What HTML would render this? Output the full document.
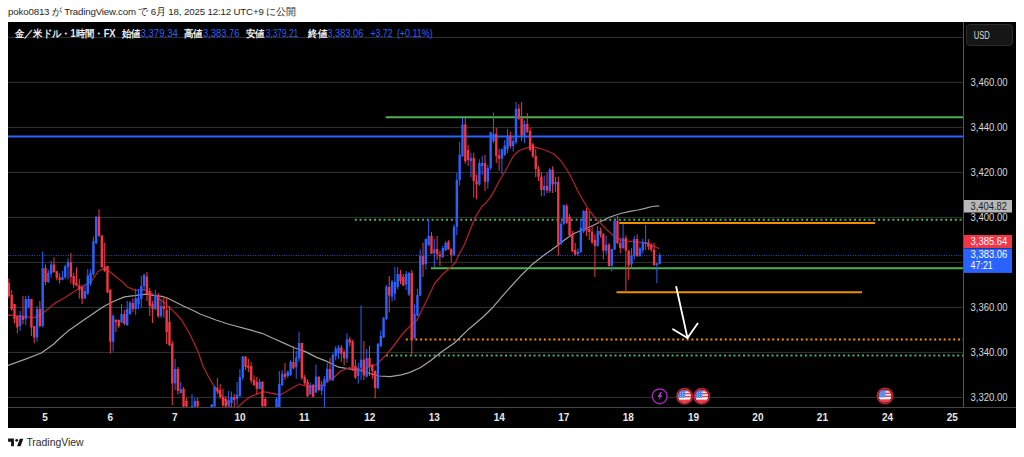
<!DOCTYPE html>
<html><head><meta charset="utf-8">
<style>
html,body{margin:0;padding:0;background:#fff;}
body{width:1024px;height:457px;overflow:hidden;position:relative;font-family:"Liberation Sans",sans-serif;}
#hdr{position:absolute;left:8px;top:5.6px;font-size:9.7px;color:#262626;white-space:nowrap;letter-spacing:-0.15px;}
#chart{position:absolute;left:8px;top:22px;width:1008px;height:406px;background:#000;}
svg{position:absolute;left:0;top:0;}
.pl{font-size:10px;fill:#d8d8d8;}
.tl{font-size:10px;font-weight:bold;fill:#e8e8e8;}
.lg{font-size:10px;fill:#e0e0e0;}
.lv{font-size:10px;fill:#2962ff;}
</style></head>
<body>
<div id="hdr">poko0813 が TradingView.com で 6月 18, 2025 12:12 UTC+9 に公開</div>
<div id="chart"></div>
<svg width="1024" height="457" viewBox="0 0 1024 457">
<defs><clipPath id="pane"><rect x="8" y="22" width="955" height="385"/></clipPath></defs>
<line x1="8" x2="963" y1="37.4" y2="37.4" stroke="#343434" stroke-width="1"/>
<line x1="8" x2="963" y1="82.4" y2="82.4" stroke="#343434" stroke-width="1"/>
<line x1="8" x2="963" y1="127.4" y2="127.4" stroke="#343434" stroke-width="1"/>
<line x1="8" x2="963" y1="172.4" y2="172.4" stroke="#343434" stroke-width="1"/>
<line x1="8" x2="963" y1="217.4" y2="217.4" stroke="#343434" stroke-width="1"/>
<line x1="8" x2="963" y1="262.4" y2="262.4" stroke="#343434" stroke-width="1"/>
<line x1="8" x2="963" y1="307.4" y2="307.4" stroke="#343434" stroke-width="1"/>
<line x1="8" x2="963" y1="352.4" y2="352.4" stroke="#343434" stroke-width="1"/>
<line x1="8" x2="963" y1="397.4" y2="397.4" stroke="#343434" stroke-width="1"/>
<line x1="385.7" x2="963" y1="117.3" y2="117.3" stroke="#4caf50" stroke-width="2"/>
<line x1="8" x2="963" y1="136.5" y2="136.5" stroke="#2962ff" stroke-width="2"/>
<line x1="354.8" x2="963" y1="219.7" y2="219.7" stroke="#4caf50" stroke-width="2" stroke-dasharray="2 2.8"/>
<line x1="619.3" x2="875" y1="223" y2="223" stroke="#f09000" stroke-width="2"/>
<line x1="8" x2="963" y1="255.5" y2="255.5" stroke="#2a4cb8" stroke-width="1" stroke-dasharray="1 1.4"/>
<line x1="430.9" x2="963" y1="268.3" y2="268.3" stroke="#4caf50" stroke-width="2"/>
<line x1="616.5" x2="862" y1="292.3" y2="292.3" stroke="#f09000" stroke-width="2"/>
<line x1="405.8" x2="963" y1="339.5" y2="339.5" stroke="#f09000" stroke-width="2" stroke-dasharray="2 2.76"/>
<line x1="386" x2="963" y1="355.6" y2="355.6" stroke="#4caf50" stroke-width="2" stroke-dasharray="2 2.76"/>
<g clip-path="url(#pane)"><polyline points="8.0,365.3 25.5,359.1 41.3,353.0 53.5,344.3 60.0,338.0 68.0,331.1 74.5,326.5 83.0,320.5 91.2,315.0 98.0,310.2 104.5,306.0 114.4,301.0 124.4,296.8 134.4,295.6 140.0,294.8 146.6,294.2 153.1,295.3 161.9,296.4 167.4,298.0 172.8,300.8 183.8,306.3 194.7,311.2 200.0,314.0 208.0,317.0 216.0,320.0 228.0,324.0 250.0,329.9 262.0,333.3 273.0,338.2 283.9,343.1 294.8,348.0 305.8,351.9 316.7,357.4 327.6,361.7 338.6,367.2 349.5,368.8 360.5,370.5 370.0,373.5 379.2,376.0 390.2,376.6 401.1,374.9 409.2,372.6 420.2,367.8 431.1,360.2 442.0,351.4 454.4,343.0 468.9,328.9 483.3,316.8 493.0,307.2 507.4,290.4 521.8,274.7 531.5,265.1 543.5,255.5 555.5,247.0 561.0,242.5 568.0,237.5 575.0,233.0 584.0,229.5 592.5,225.8 601.0,221.5 610.0,217.0 620.5,213.5 630.0,211.3 638.0,210.0 645.0,208.4 652.0,206.5 659.3,205.8" fill="none" stroke="#a2a2a2" stroke-width="1.25" stroke-linejoin="round"/><polyline points="8.0,315.0 24.6,316.7 34.6,317.6 43.8,312.6 54.6,303.4 66.2,296.8 77.8,289.3 87.8,283.5 91.6,281.0 95.0,276.0 98.1,271.5 101.5,269.5 104.7,269.0 109.0,271.0 112.0,273.5 115.6,276.6 122.3,281.8 127.6,287.1 135.5,290.4 143.4,289.7 148.6,291.7 155.2,295.6 159.0,298.3 163.0,301.5 169.6,308.1 172.8,310.6 177.2,315.0 181.6,320.0 186.0,327.5 190.0,334.5 194.0,342.8 198.2,352.0 202.8,365.5 207.8,375.5 213.3,384.8 218.0,391.5 222.3,396.4 229.5,406.0 234.0,408.5 239.0,406.0 245.0,400.5 251.0,396.4 263.3,391.6 275.3,394.0 280.0,395.0 285.8,391.7 299.3,384.0 309.4,387.4 321.2,385.0 333.0,378.2 340.8,371.0 349.5,367.7 356.0,368.3 360.0,370.0 371.0,366.2 376.4,364.5 379.7,361.3 386.3,354.7 392.8,347.0 401.6,335.0 405.6,330.5 410.0,326.1 416.6,320.6 423.2,307.5 429.2,295.0 434.7,283.3 443.5,273.4 451.1,266.9 455.5,262.5 458.8,254.8 464.2,245.0 469.7,231.1 475.2,217.4 481.8,206.5 486.1,202.7 492.0,195.0 496.9,185.5 499.8,180.0 505.0,171.5 509.0,164.0 513.6,155.5 519.3,150.5 527.4,147.6 534.3,147.2 540.0,148.5 546.0,150.5 554.0,154.0 561.0,161.0 568.0,171.5 573.0,181.0 578.5,192.5 584.0,202.0 589.0,210.0 594.0,216.5 599.5,222.3 605.0,228.0 610.0,232.8 615.0,236.8 620.5,239.8 627.0,241.2 634.6,241.6 645.0,242.8 652.0,245.5 659.4,248.6" fill="none" stroke="#ad1f2c" stroke-width="1.3" stroke-linejoin="round"/><rect x="8.37" y="278.6" width="1" height="19.4" fill="#f23645"/>
<rect x="7.67" y="282.8" width="2.4" height="13.2" fill="#f23645"/>
<rect x="11.19" y="290.0" width="1" height="21.0" fill="#f23645"/>
<rect x="10.49" y="295.0" width="2.4" height="14.3" fill="#f23645"/>
<rect x="14.01" y="304.0" width="1" height="19.4" fill="#f23645"/>
<rect x="13.31" y="304.0" width="2.4" height="15.0" fill="#f23645"/>
<rect x="16.83" y="316.0" width="1" height="17.4" fill="#f23645"/>
<rect x="16.13" y="316.0" width="2.4" height="11.5" fill="#f23645"/>
<rect x="19.64" y="311.0" width="1" height="20.0" fill="#2962ff"/>
<rect x="18.94" y="315.0" width="2.4" height="11.0" fill="#2962ff"/>
<rect x="22.46" y="296.0" width="1" height="28.0" fill="#f23645"/>
<rect x="21.76" y="316.0" width="2.4" height="4.0" fill="#f23645"/>
<rect x="25.28" y="296.0" width="1" height="29.0" fill="#2962ff"/>
<rect x="24.58" y="299.0" width="2.4" height="20.0" fill="#2962ff"/>
<rect x="28.10" y="295.6" width="1" height="12.9" fill="#2962ff"/>
<rect x="27.40" y="299.0" width="2.4" height="8.6" fill="#2962ff"/>
<rect x="30.91" y="299.0" width="1" height="37.0" fill="#f23645"/>
<rect x="30.21" y="299.0" width="2.4" height="28.5" fill="#f23645"/>
<rect x="33.73" y="326.0" width="1" height="17.4" fill="#f23645"/>
<rect x="33.03" y="326.0" width="2.4" height="11.5" fill="#f23645"/>
<rect x="36.55" y="306.0" width="1" height="35.7" fill="#2962ff"/>
<rect x="35.85" y="309.0" width="2.4" height="28.5" fill="#2962ff"/>
<rect x="39.37" y="301.0" width="1" height="26.5" fill="#f23645"/>
<rect x="38.67" y="309.0" width="2.4" height="17.0" fill="#f23645"/>
<rect x="42.18" y="251.6" width="1" height="75.9" fill="#2962ff"/>
<rect x="41.48" y="268.2" width="2.4" height="57.8" fill="#2962ff"/>
<rect x="45.00" y="264.5" width="1" height="20.4" fill="#f23645"/>
<rect x="44.30" y="268.2" width="2.4" height="13.8" fill="#f23645"/>
<rect x="47.82" y="270.0" width="1" height="12.8" fill="#2962ff"/>
<rect x="47.12" y="272.8" width="2.4" height="9.2" fill="#2962ff"/>
<rect x="50.63" y="260.7" width="1" height="17.1" fill="#2962ff"/>
<rect x="49.93" y="264.5" width="2.4" height="9.1" fill="#2962ff"/>
<rect x="53.45" y="257.4" width="1" height="15.4" fill="#f23645"/>
<rect x="52.75" y="264.5" width="2.4" height="7.5" fill="#f23645"/>
<rect x="56.27" y="271.0" width="1" height="9.3" fill="#f23645"/>
<rect x="55.57" y="271.2" width="2.4" height="6.6" fill="#f23645"/>
<rect x="59.09" y="273.2" width="1" height="10.4" fill="#f23645"/>
<rect x="58.39" y="277.4" width="2.4" height="2.5" fill="#f23645"/>
<rect x="61.90" y="271.0" width="1" height="9.3" fill="#2962ff"/>
<rect x="61.20" y="277.0" width="2.4" height="3.0" fill="#2962ff"/>
<rect x="64.72" y="264.5" width="1" height="14.5" fill="#2962ff"/>
<rect x="64.02" y="266.2" width="2.4" height="11.2" fill="#2962ff"/>
<rect x="67.54" y="258.0" width="1" height="21.5" fill="#2962ff"/>
<rect x="66.84" y="262.4" width="2.4" height="4.6" fill="#2962ff"/>
<rect x="70.36" y="253.0" width="1" height="30.6" fill="#f23645"/>
<rect x="69.66" y="262.4" width="2.4" height="14.6" fill="#f23645"/>
<rect x="73.17" y="272.8" width="1" height="15.0" fill="#f23645"/>
<rect x="72.47" y="276.0" width="2.4" height="8.5" fill="#f23645"/>
<rect x="75.99" y="267.4" width="1" height="18.7" fill="#f23645"/>
<rect x="75.29" y="282.8" width="2.4" height="2.9" fill="#f23645"/>
<rect x="78.81" y="279.0" width="1" height="19.6" fill="#f23645"/>
<rect x="78.11" y="285.3" width="2.4" height="4.2" fill="#f23645"/>
<rect x="81.63" y="285.0" width="1" height="19.0" fill="#f23645"/>
<rect x="80.93" y="287.0" width="2.4" height="11.6" fill="#f23645"/>
<rect x="84.44" y="284.5" width="1" height="14.5" fill="#2962ff"/>
<rect x="83.74" y="291.0" width="2.4" height="7.6" fill="#2962ff"/>
<rect x="87.26" y="269.0" width="1" height="26.0" fill="#2962ff"/>
<rect x="86.56" y="275.3" width="2.4" height="18.3" fill="#2962ff"/>
<rect x="90.08" y="269.5" width="1" height="16.5" fill="#2962ff"/>
<rect x="89.38" y="272.8" width="2.4" height="10.8" fill="#2962ff"/>
<rect x="92.90" y="236.6" width="1" height="39.4" fill="#2962ff"/>
<rect x="92.20" y="241.3" width="2.4" height="32.7" fill="#2962ff"/>
<rect x="95.71" y="216.6" width="1" height="27.4" fill="#2962ff"/>
<rect x="95.01" y="216.6" width="2.4" height="26.6" fill="#2962ff"/>
<rect x="98.53" y="209.1" width="1" height="27.9" fill="#f23645"/>
<rect x="97.83" y="216.6" width="2.4" height="19.2" fill="#f23645"/>
<rect x="101.35" y="235.0" width="1" height="33.0" fill="#f23645"/>
<rect x="100.65" y="235.4" width="2.4" height="31.6" fill="#f23645"/>
<rect x="104.17" y="242.8" width="1" height="29.2" fill="#f23645"/>
<rect x="103.47" y="266.5" width="2.4" height="4.2" fill="#f23645"/>
<rect x="106.98" y="265.8" width="1" height="27.2" fill="#f23645"/>
<rect x="106.28" y="266.0" width="2.4" height="26.6" fill="#f23645"/>
<rect x="109.80" y="289.0" width="1" height="64.5" fill="#f23645"/>
<rect x="109.10" y="290.0" width="2.4" height="51.7" fill="#f23645"/>
<rect x="112.62" y="314.0" width="1" height="37.5" fill="#2962ff"/>
<rect x="111.92" y="316.0" width="2.4" height="25.7" fill="#2962ff"/>
<rect x="115.43" y="319.0" width="1" height="13.0" fill="#f23645"/>
<rect x="114.73" y="320.0" width="2.4" height="2.0" fill="#f23645"/>
<rect x="118.25" y="319.5" width="1" height="8.5" fill="#f23645"/>
<rect x="117.55" y="320.0" width="2.4" height="6.0" fill="#f23645"/>
<rect x="121.07" y="304.0" width="1" height="19.0" fill="#2962ff"/>
<rect x="120.37" y="314.0" width="2.4" height="8.6" fill="#2962ff"/>
<rect x="123.89" y="310.0" width="1" height="15.0" fill="#f23645"/>
<rect x="123.19" y="314.0" width="2.4" height="10.0" fill="#f23645"/>
<rect x="126.70" y="301.0" width="1" height="25.0" fill="#2962ff"/>
<rect x="126.00" y="309.0" width="2.4" height="16.0" fill="#2962ff"/>
<rect x="129.52" y="301.0" width="1" height="14.0" fill="#2962ff"/>
<rect x="128.82" y="302.6" width="2.4" height="11.4" fill="#2962ff"/>
<rect x="132.34" y="298.4" width="1" height="13.6" fill="#f23645"/>
<rect x="131.64" y="303.0" width="2.4" height="6.0" fill="#f23645"/>
<rect x="135.16" y="288.6" width="1" height="26.4" fill="#2962ff"/>
<rect x="134.46" y="298.4" width="2.4" height="10.6" fill="#2962ff"/>
<rect x="137.97" y="289.0" width="1" height="20.0" fill="#2962ff"/>
<rect x="137.27" y="297.6" width="2.4" height="6.4" fill="#2962ff"/>
<rect x="140.79" y="276.0" width="1" height="31.6" fill="#2962ff"/>
<rect x="140.09" y="286.0" width="2.4" height="13.0" fill="#2962ff"/>
<rect x="143.61" y="274.0" width="1" height="16.0" fill="#2962ff"/>
<rect x="142.91" y="274.6" width="2.4" height="11.4" fill="#2962ff"/>
<rect x="146.43" y="272.0" width="1" height="29.0" fill="#f23645"/>
<rect x="145.73" y="276.6" width="2.4" height="17.7" fill="#f23645"/>
<rect x="149.24" y="288.0" width="1" height="28.0" fill="#f23645"/>
<rect x="148.54" y="291.0" width="2.4" height="15.0" fill="#f23645"/>
<rect x="152.06" y="301.0" width="1" height="22.0" fill="#f23645"/>
<rect x="151.36" y="304.0" width="2.4" height="5.0" fill="#f23645"/>
<rect x="154.88" y="290.0" width="1" height="20.0" fill="#2962ff"/>
<rect x="154.18" y="295.0" width="2.4" height="14.0" fill="#2962ff"/>
<rect x="157.70" y="293.0" width="1" height="25.0" fill="#f23645"/>
<rect x="157.00" y="295.0" width="2.4" height="21.0" fill="#f23645"/>
<rect x="160.51" y="300.0" width="1" height="18.0" fill="#2962ff"/>
<rect x="159.81" y="306.0" width="2.4" height="10.0" fill="#2962ff"/>
<rect x="163.33" y="297.6" width="1" height="20.0" fill="#f23645"/>
<rect x="162.63" y="306.0" width="2.4" height="3.0" fill="#f23645"/>
<rect x="166.15" y="297.5" width="1" height="46.5" fill="#f23645"/>
<rect x="165.45" y="310.0" width="2.4" height="22.0" fill="#f23645"/>
<rect x="168.97" y="306.0" width="1" height="40.0" fill="#f23645"/>
<rect x="168.27" y="321.7" width="2.4" height="23.3" fill="#f23645"/>
<rect x="171.78" y="341.0" width="1" height="64.0" fill="#f23645"/>
<rect x="171.08" y="343.6" width="2.4" height="39.8" fill="#f23645"/>
<rect x="174.60" y="359.0" width="1" height="31.0" fill="#2962ff"/>
<rect x="173.90" y="369.0" width="2.4" height="14.4" fill="#2962ff"/>
<rect x="177.42" y="367.0" width="1" height="27.7" fill="#f23645"/>
<rect x="176.72" y="369.0" width="2.4" height="22.0" fill="#f23645"/>
<rect x="180.23" y="381.8" width="1" height="11.8" fill="#2962ff"/>
<rect x="179.53" y="389.0" width="2.4" height="4.0" fill="#2962ff"/>
<rect x="183.05" y="387.0" width="1" height="20.0" fill="#f23645"/>
<rect x="182.35" y="388.8" width="2.4" height="17.7" fill="#f23645"/>
<rect x="185.87" y="398.0" width="1" height="9.0" fill="#f23645"/>
<rect x="185.17" y="401.0" width="2.4" height="5.5" fill="#f23645"/>
<rect x="191.50" y="394.0" width="1" height="13.0" fill="#2962ff"/>
<rect x="190.80" y="406.0" width="2.4" height="1.0" fill="#2962ff"/>
<rect x="194.32" y="398.0" width="1" height="9.0" fill="#2962ff"/>
<rect x="193.62" y="401.0" width="2.4" height="5.5" fill="#2962ff"/>
<rect x="197.14" y="398.0" width="1" height="9.0" fill="#f23645"/>
<rect x="196.44" y="401.0" width="2.4" height="5.5" fill="#f23645"/>
<rect x="211.23" y="404.0" width="1" height="3.0" fill="#2962ff"/>
<rect x="210.53" y="404.5" width="2.4" height="2.5" fill="#2962ff"/>
<rect x="214.04" y="385.8" width="1" height="21.2" fill="#2962ff"/>
<rect x="213.34" y="386.6" width="2.4" height="19.9" fill="#2962ff"/>
<rect x="216.86" y="378.0" width="1" height="16.0" fill="#f23645"/>
<rect x="216.16" y="387.7" width="2.4" height="3.8" fill="#f23645"/>
<rect x="219.68" y="384.0" width="1" height="15.0" fill="#f23645"/>
<rect x="218.98" y="390.0" width="2.4" height="7.0" fill="#f23645"/>
<rect x="222.50" y="389.0" width="1" height="18.0" fill="#f23645"/>
<rect x="221.80" y="397.0" width="2.4" height="8.4" fill="#f23645"/>
<rect x="225.31" y="396.0" width="1" height="11.0" fill="#f23645"/>
<rect x="224.61" y="399.0" width="2.4" height="7.5" fill="#f23645"/>
<rect x="228.13" y="391.0" width="1" height="16.0" fill="#2962ff"/>
<rect x="227.43" y="400.0" width="2.4" height="5.0" fill="#2962ff"/>
<rect x="230.95" y="391.5" width="1" height="15.5" fill="#2962ff"/>
<rect x="230.25" y="397.0" width="2.4" height="6.0" fill="#2962ff"/>
<rect x="233.77" y="394.0" width="1" height="13.0" fill="#f23645"/>
<rect x="233.07" y="397.0" width="2.4" height="3.0" fill="#f23645"/>
<rect x="236.58" y="382.0" width="1" height="23.0" fill="#2962ff"/>
<rect x="235.88" y="394.7" width="2.4" height="4.3" fill="#2962ff"/>
<rect x="239.40" y="369.0" width="1" height="28.0" fill="#2962ff"/>
<rect x="238.70" y="377.0" width="2.4" height="18.8" fill="#2962ff"/>
<rect x="242.22" y="356.0" width="1" height="24.0" fill="#2962ff"/>
<rect x="241.52" y="356.5" width="2.4" height="21.0" fill="#2962ff"/>
<rect x="245.03" y="356.0" width="1" height="14.0" fill="#f23645"/>
<rect x="244.33" y="356.5" width="2.4" height="10.5" fill="#f23645"/>
<rect x="247.85" y="358.8" width="1" height="13.2" fill="#f23645"/>
<rect x="247.15" y="365.5" width="2.4" height="2.5" fill="#f23645"/>
<rect x="250.67" y="362.0" width="1" height="21.4" fill="#f23645"/>
<rect x="249.97" y="366.0" width="2.4" height="14.7" fill="#f23645"/>
<rect x="253.49" y="375.4" width="1" height="10.6" fill="#f23645"/>
<rect x="252.79" y="380.0" width="2.4" height="5.0" fill="#f23645"/>
<rect x="256.30" y="377.0" width="1" height="17.2" fill="#f23645"/>
<rect x="255.60" y="381.8" width="2.4" height="7.0" fill="#f23645"/>
<rect x="259.12" y="378.6" width="1" height="10.9" fill="#2962ff"/>
<rect x="258.42" y="381.8" width="2.4" height="7.0" fill="#2962ff"/>
<rect x="261.94" y="381.0" width="1" height="26.0" fill="#f23645"/>
<rect x="261.24" y="381.8" width="2.4" height="24.2" fill="#f23645"/>
<rect x="264.76" y="396.8" width="1" height="10.2" fill="#f23645"/>
<rect x="264.06" y="399.0" width="2.4" height="7.0" fill="#f23645"/>
<rect x="276.03" y="397.0" width="1" height="10.0" fill="#2962ff"/>
<rect x="275.33" y="399.0" width="2.4" height="8.0" fill="#2962ff"/>
<rect x="278.84" y="371.0" width="1" height="36.0" fill="#2962ff"/>
<rect x="278.14" y="384.0" width="2.4" height="23.0" fill="#2962ff"/>
<rect x="281.66" y="370.0" width="1" height="16.0" fill="#2962ff"/>
<rect x="280.96" y="373.8" width="2.4" height="11.2" fill="#2962ff"/>
<rect x="284.48" y="363.0" width="1" height="17.0" fill="#f23645"/>
<rect x="283.78" y="373.8" width="2.4" height="3.2" fill="#f23645"/>
<rect x="287.30" y="370.5" width="1" height="7.5" fill="#2962ff"/>
<rect x="286.60" y="371.6" width="2.4" height="4.4" fill="#2962ff"/>
<rect x="290.11" y="360.0" width="1" height="16.0" fill="#2962ff"/>
<rect x="289.41" y="361.7" width="2.4" height="13.2" fill="#2962ff"/>
<rect x="292.93" y="345.9" width="1" height="23.5" fill="#f23645"/>
<rect x="292.23" y="362.0" width="2.4" height="6.3" fill="#f23645"/>
<rect x="295.75" y="351.0" width="1" height="27.7" fill="#2962ff"/>
<rect x="295.05" y="357.4" width="2.4" height="9.8" fill="#2962ff"/>
<rect x="298.57" y="331.6" width="1" height="30.1" fill="#2962ff"/>
<rect x="297.87" y="343.0" width="2.4" height="15.4" fill="#2962ff"/>
<rect x="301.38" y="343.0" width="1" height="37.0" fill="#f23645"/>
<rect x="300.68" y="343.0" width="2.4" height="35.0" fill="#f23645"/>
<rect x="304.20" y="375.0" width="1" height="10.0" fill="#f23645"/>
<rect x="303.50" y="377.0" width="2.4" height="6.0" fill="#f23645"/>
<rect x="307.02" y="379.0" width="1" height="18.0" fill="#f23645"/>
<rect x="306.32" y="381.5" width="2.4" height="14.5" fill="#f23645"/>
<rect x="309.83" y="383.0" width="1" height="12.0" fill="#2962ff"/>
<rect x="309.13" y="385.0" width="2.4" height="9.0" fill="#2962ff"/>
<rect x="312.65" y="384.0" width="1" height="13.5" fill="#f23645"/>
<rect x="311.95" y="385.0" width="2.4" height="11.7" fill="#f23645"/>
<rect x="315.47" y="364.5" width="1" height="28.5" fill="#2962ff"/>
<rect x="314.77" y="376.5" width="2.4" height="16.0" fill="#2962ff"/>
<rect x="318.29" y="376.0" width="1" height="15.0" fill="#f23645"/>
<rect x="317.59" y="377.0" width="2.4" height="13.0" fill="#f23645"/>
<rect x="321.10" y="381.0" width="1" height="14.0" fill="#2962ff"/>
<rect x="320.40" y="385.0" width="2.4" height="5.8" fill="#2962ff"/>
<rect x="323.92" y="376.0" width="1" height="31.0" fill="#2962ff"/>
<rect x="323.22" y="379.0" width="2.4" height="7.6" fill="#2962ff"/>
<rect x="326.74" y="362.8" width="1" height="20.2" fill="#2962ff"/>
<rect x="326.04" y="368.8" width="2.4" height="12.7" fill="#2962ff"/>
<rect x="329.56" y="358.0" width="1" height="22.0" fill="#f23645"/>
<rect x="328.86" y="369.0" width="2.4" height="10.0" fill="#f23645"/>
<rect x="332.37" y="353.0" width="1" height="28.0" fill="#2962ff"/>
<rect x="331.67" y="355.0" width="2.4" height="25.4" fill="#2962ff"/>
<rect x="335.19" y="346.0" width="1" height="14.5" fill="#2962ff"/>
<rect x="334.49" y="348.6" width="2.4" height="7.7" fill="#2962ff"/>
<rect x="338.01" y="345.0" width="1" height="14.0" fill="#2962ff"/>
<rect x="337.31" y="347.5" width="2.4" height="6.0" fill="#2962ff"/>
<rect x="340.83" y="345.0" width="1" height="16.7" fill="#f23645"/>
<rect x="340.13" y="347.5" width="2.4" height="6.0" fill="#f23645"/>
<rect x="343.64" y="350.0" width="1" height="15.6" fill="#f23645"/>
<rect x="342.94" y="352.0" width="2.4" height="6.4" fill="#f23645"/>
<rect x="346.46" y="333.3" width="1" height="29.5" fill="#2962ff"/>
<rect x="345.76" y="339.3" width="2.4" height="19.1" fill="#2962ff"/>
<rect x="349.28" y="337.0" width="1" height="9.4" fill="#f23645"/>
<rect x="348.58" y="339.3" width="2.4" height="3.3" fill="#f23645"/>
<rect x="352.10" y="340.0" width="1" height="31.0" fill="#f23645"/>
<rect x="351.40" y="341.5" width="2.4" height="25.7" fill="#f23645"/>
<rect x="354.91" y="359.5" width="1" height="19.5" fill="#f23645"/>
<rect x="354.21" y="366.0" width="2.4" height="11.6" fill="#f23645"/>
<rect x="357.73" y="362.8" width="1" height="20.9" fill="#2962ff"/>
<rect x="357.03" y="367.7" width="2.4" height="8.3" fill="#2962ff"/>
<rect x="360.55" y="305.3" width="1" height="74.7" fill="#2962ff"/>
<rect x="359.85" y="359.6" width="2.4" height="8.2" fill="#2962ff"/>
<rect x="363.37" y="341.0" width="1" height="39.0" fill="#f23645"/>
<rect x="362.67" y="359.6" width="2.4" height="15.9" fill="#f23645"/>
<rect x="366.18" y="349.0" width="1" height="28.7" fill="#2962ff"/>
<rect x="365.48" y="358.0" width="2.4" height="18.6" fill="#2962ff"/>
<rect x="369.00" y="346.0" width="1" height="30.0" fill="#f23645"/>
<rect x="368.30" y="358.0" width="2.4" height="8.7" fill="#f23645"/>
<rect x="371.82" y="364.5" width="1" height="14.3" fill="#f23645"/>
<rect x="371.12" y="364.5" width="2.4" height="6.5" fill="#f23645"/>
<rect x="374.63" y="370.0" width="1" height="28.4" fill="#f23645"/>
<rect x="373.93" y="371.0" width="2.4" height="17.0" fill="#f23645"/>
<rect x="377.45" y="343.0" width="1" height="46.0" fill="#2962ff"/>
<rect x="376.75" y="343.8" width="2.4" height="44.2" fill="#2962ff"/>
<rect x="380.27" y="330.5" width="1" height="16.5" fill="#2962ff"/>
<rect x="379.57" y="336.0" width="2.4" height="10.0" fill="#2962ff"/>
<rect x="383.09" y="317.0" width="1" height="21.0" fill="#2962ff"/>
<rect x="382.39" y="318.0" width="2.4" height="19.6" fill="#2962ff"/>
<rect x="385.90" y="285.0" width="1" height="35.0" fill="#2962ff"/>
<rect x="385.20" y="286.6" width="2.4" height="32.4" fill="#2962ff"/>
<rect x="388.72" y="276.0" width="1" height="36.4" fill="#f23645"/>
<rect x="388.02" y="287.0" width="2.4" height="8.5" fill="#f23645"/>
<rect x="391.54" y="280.0" width="1" height="21.5" fill="#2962ff"/>
<rect x="390.84" y="281.7" width="2.4" height="14.9" fill="#2962ff"/>
<rect x="394.36" y="267.0" width="1" height="33.4" fill="#2962ff"/>
<rect x="393.66" y="282.0" width="2.4" height="11.8" fill="#2962ff"/>
<rect x="397.17" y="267.0" width="1" height="22.0" fill="#2962ff"/>
<rect x="396.47" y="274.0" width="2.4" height="13.0" fill="#2962ff"/>
<rect x="399.99" y="270.0" width="1" height="14.0" fill="#f23645"/>
<rect x="399.29" y="274.0" width="2.4" height="7.0" fill="#f23645"/>
<rect x="402.81" y="274.0" width="1" height="12.0" fill="#f23645"/>
<rect x="402.11" y="276.7" width="2.4" height="8.8" fill="#f23645"/>
<rect x="405.63" y="271.0" width="1" height="19.0" fill="#2962ff"/>
<rect x="404.93" y="274.0" width="2.4" height="10.4" fill="#2962ff"/>
<rect x="408.44" y="271.8" width="1" height="24.2" fill="#2962ff"/>
<rect x="407.74" y="273.0" width="2.4" height="21.4" fill="#2962ff"/>
<rect x="411.26" y="270.0" width="1" height="84.7" fill="#f23645"/>
<rect x="410.56" y="272.9" width="2.4" height="67.1" fill="#f23645"/>
<rect x="414.08" y="304.2" width="1" height="34.8" fill="#2962ff"/>
<rect x="413.38" y="314.0" width="2.4" height="24.0" fill="#2962ff"/>
<rect x="416.90" y="288.8" width="1" height="27.2" fill="#2962ff"/>
<rect x="416.20" y="295.0" width="2.4" height="20.7" fill="#2962ff"/>
<rect x="419.71" y="249.4" width="1" height="46.6" fill="#2962ff"/>
<rect x="419.01" y="256.0" width="2.4" height="39.5" fill="#2962ff"/>
<rect x="422.53" y="242.6" width="1" height="34.4" fill="#f23645"/>
<rect x="421.83" y="256.0" width="2.4" height="8.7" fill="#f23645"/>
<rect x="425.35" y="238.8" width="1" height="30.8" fill="#2962ff"/>
<rect x="424.65" y="238.8" width="2.4" height="25.2" fill="#2962ff"/>
<rect x="428.17" y="219.6" width="1" height="26.4" fill="#2962ff"/>
<rect x="427.47" y="236.0" width="2.4" height="9.0" fill="#2962ff"/>
<rect x="430.98" y="232.0" width="1" height="22.0" fill="#f23645"/>
<rect x="430.28" y="236.0" width="2.4" height="17.8" fill="#f23645"/>
<rect x="433.80" y="238.8" width="1" height="28.2" fill="#2962ff"/>
<rect x="433.10" y="249.4" width="2.4" height="3.8" fill="#2962ff"/>
<rect x="436.62" y="236.0" width="1" height="24.0" fill="#f23645"/>
<rect x="435.92" y="249.0" width="2.4" height="5.3" fill="#f23645"/>
<rect x="439.43" y="251.0" width="1" height="15.3" fill="#f23645"/>
<rect x="438.73" y="254.3" width="2.4" height="2.2" fill="#f23645"/>
<rect x="442.25" y="246.0" width="1" height="12.0" fill="#2962ff"/>
<rect x="441.55" y="248.0" width="2.4" height="9.0" fill="#2962ff"/>
<rect x="445.07" y="241.0" width="1" height="10.0" fill="#2962ff"/>
<rect x="444.37" y="243.0" width="2.4" height="7.5" fill="#2962ff"/>
<rect x="447.89" y="240.0" width="1" height="10.0" fill="#f23645"/>
<rect x="447.19" y="242.0" width="2.4" height="7.4" fill="#f23645"/>
<rect x="450.70" y="248.0" width="1" height="14.5" fill="#f23645"/>
<rect x="450.00" y="249.4" width="2.4" height="5.4" fill="#f23645"/>
<rect x="453.52" y="224.5" width="1" height="31.5" fill="#2962ff"/>
<rect x="452.82" y="226.7" width="2.4" height="28.1" fill="#2962ff"/>
<rect x="456.34" y="172.9" width="1" height="62.1" fill="#2962ff"/>
<rect x="455.64" y="180.0" width="2.4" height="46.7" fill="#2962ff"/>
<rect x="459.16" y="142.0" width="1" height="43.5" fill="#2962ff"/>
<rect x="458.46" y="154.8" width="2.4" height="25.2" fill="#2962ff"/>
<rect x="461.97" y="118.0" width="1" height="39.0" fill="#2962ff"/>
<rect x="461.27" y="124.5" width="2.4" height="31.5" fill="#2962ff"/>
<rect x="464.79" y="118.0" width="1" height="45.6" fill="#f23645"/>
<rect x="464.09" y="124.5" width="2.4" height="36.9" fill="#f23645"/>
<rect x="467.61" y="145.0" width="1" height="21.0" fill="#f23645"/>
<rect x="466.91" y="150.0" width="2.4" height="10.0" fill="#f23645"/>
<rect x="470.43" y="152.7" width="1" height="24.6" fill="#2962ff"/>
<rect x="469.73" y="158.0" width="2.4" height="3.0" fill="#2962ff"/>
<rect x="473.24" y="152.7" width="1" height="45.0" fill="#f23645"/>
<rect x="472.54" y="158.0" width="2.4" height="23.0" fill="#f23645"/>
<rect x="476.06" y="174.5" width="1" height="24.9" fill="#f23645"/>
<rect x="475.36" y="180.6" width="2.4" height="3.8" fill="#f23645"/>
<rect x="478.88" y="159.2" width="1" height="26.8" fill="#2962ff"/>
<rect x="478.18" y="163.0" width="2.4" height="21.4" fill="#2962ff"/>
<rect x="481.70" y="156.0" width="1" height="19.0" fill="#2962ff"/>
<rect x="481.00" y="163.0" width="2.4" height="3.0" fill="#2962ff"/>
<rect x="484.51" y="154.8" width="1" height="36.2" fill="#f23645"/>
<rect x="483.81" y="163.0" width="2.4" height="18.7" fill="#f23645"/>
<rect x="487.33" y="165.0" width="1" height="23.8" fill="#2962ff"/>
<rect x="486.63" y="168.0" width="2.4" height="13.7" fill="#2962ff"/>
<rect x="490.15" y="132.2" width="1" height="37.8" fill="#2962ff"/>
<rect x="489.45" y="132.2" width="2.4" height="35.8" fill="#2962ff"/>
<rect x="492.97" y="112.5" width="1" height="30.5" fill="#2962ff"/>
<rect x="492.27" y="133.8" width="2.4" height="7.2" fill="#2962ff"/>
<rect x="495.78" y="127.8" width="1" height="35.2" fill="#f23645"/>
<rect x="495.08" y="133.8" width="2.4" height="22.2" fill="#f23645"/>
<rect x="498.60" y="148.8" width="1" height="21.9" fill="#f23645"/>
<rect x="497.90" y="155.4" width="2.4" height="3.3" fill="#f23645"/>
<rect x="501.42" y="148.3" width="1" height="25.7" fill="#2962ff"/>
<rect x="500.72" y="149.4" width="2.4" height="9.3" fill="#2962ff"/>
<rect x="504.23" y="140.0" width="1" height="16.0" fill="#2962ff"/>
<rect x="503.53" y="145.5" width="2.4" height="9.3" fill="#2962ff"/>
<rect x="507.05" y="129.0" width="1" height="24.0" fill="#2962ff"/>
<rect x="506.35" y="135.5" width="2.4" height="13.9" fill="#2962ff"/>
<rect x="509.87" y="131.7" width="1" height="16.3" fill="#f23645"/>
<rect x="509.17" y="135.5" width="2.4" height="10.5" fill="#f23645"/>
<rect x="512.69" y="138.0" width="1" height="13.6" fill="#2962ff"/>
<rect x="511.99" y="141.0" width="2.4" height="5.0" fill="#2962ff"/>
<rect x="515.50" y="102.0" width="1" height="42.0" fill="#2962ff"/>
<rect x="514.80" y="108.7" width="2.4" height="33.3" fill="#2962ff"/>
<rect x="518.32" y="104.3" width="1" height="15.7" fill="#f23645"/>
<rect x="517.62" y="108.7" width="2.4" height="9.8" fill="#f23645"/>
<rect x="521.14" y="102.0" width="1" height="39.0" fill="#f23645"/>
<rect x="520.44" y="118.5" width="2.4" height="17.0" fill="#f23645"/>
<rect x="523.96" y="120.7" width="1" height="22.3" fill="#2962ff"/>
<rect x="523.26" y="124.0" width="2.4" height="12.6" fill="#2962ff"/>
<rect x="526.77" y="113.0" width="1" height="20.0" fill="#f23645"/>
<rect x="526.07" y="124.0" width="2.4" height="7.7" fill="#f23645"/>
<rect x="529.59" y="127.8" width="1" height="23.7" fill="#f23645"/>
<rect x="528.89" y="131.0" width="2.4" height="19.0" fill="#f23645"/>
<rect x="532.41" y="143.0" width="1" height="15.0" fill="#f23645"/>
<rect x="531.71" y="144.4" width="2.4" height="12.0" fill="#f23645"/>
<rect x="535.23" y="148.8" width="1" height="28.2" fill="#f23645"/>
<rect x="534.53" y="156.0" width="2.4" height="13.0" fill="#f23645"/>
<rect x="538.04" y="166.0" width="1" height="15.0" fill="#f23645"/>
<rect x="537.34" y="169.0" width="2.4" height="7.7" fill="#f23645"/>
<rect x="540.86" y="172.0" width="1" height="24.4" fill="#f23645"/>
<rect x="540.16" y="176.7" width="2.4" height="13.2" fill="#f23645"/>
<rect x="543.68" y="175.6" width="1" height="20.3" fill="#2962ff"/>
<rect x="542.98" y="186.0" width="2.4" height="4.0" fill="#2962ff"/>
<rect x="546.50" y="172.8" width="1" height="20.2" fill="#f23645"/>
<rect x="545.80" y="186.0" width="2.4" height="4.4" fill="#f23645"/>
<rect x="549.31" y="168.0" width="1" height="25.0" fill="#2962ff"/>
<rect x="548.61" y="169.5" width="2.4" height="21.5" fill="#2962ff"/>
<rect x="552.13" y="166.3" width="1" height="26.7" fill="#f23645"/>
<rect x="551.43" y="169.5" width="2.4" height="14.9" fill="#f23645"/>
<rect x="554.95" y="177.0" width="1" height="15.0" fill="#2962ff"/>
<rect x="554.25" y="182.0" width="2.4" height="2.4" fill="#2962ff"/>
<rect x="557.77" y="176.6" width="1" height="79.4" fill="#f23645"/>
<rect x="557.07" y="182.0" width="2.4" height="62.0" fill="#f23645"/>
<rect x="560.58" y="221.0" width="1" height="24.0" fill="#2962ff"/>
<rect x="559.88" y="223.8" width="2.4" height="20.2" fill="#2962ff"/>
<rect x="563.40" y="204.6" width="1" height="20.4" fill="#2962ff"/>
<rect x="562.70" y="205.0" width="2.4" height="18.8" fill="#2962ff"/>
<rect x="566.22" y="204.0" width="1" height="20.0" fill="#f23645"/>
<rect x="565.52" y="206.0" width="2.4" height="16.7" fill="#f23645"/>
<rect x="569.03" y="214.0" width="1" height="23.0" fill="#f23645"/>
<rect x="568.33" y="216.7" width="2.4" height="18.7" fill="#f23645"/>
<rect x="571.85" y="231.0" width="1" height="21.0" fill="#f23645"/>
<rect x="571.15" y="234.3" width="2.4" height="17.0" fill="#f23645"/>
<rect x="574.67" y="243.0" width="1" height="12.6" fill="#f23645"/>
<rect x="573.97" y="250.0" width="2.4" height="4.5" fill="#f23645"/>
<rect x="577.49" y="248.5" width="1" height="7.5" fill="#2962ff"/>
<rect x="576.79" y="251.8" width="2.4" height="2.2" fill="#2962ff"/>
<rect x="580.30" y="219.4" width="1" height="33.6" fill="#2962ff"/>
<rect x="579.60" y="227.7" width="2.4" height="24.1" fill="#2962ff"/>
<rect x="583.12" y="210.0" width="1" height="23.0" fill="#2962ff"/>
<rect x="582.42" y="211.0" width="2.4" height="20.6" fill="#2962ff"/>
<rect x="585.94" y="208.0" width="1" height="28.0" fill="#f23645"/>
<rect x="585.24" y="210.6" width="2.4" height="19.9" fill="#f23645"/>
<rect x="588.76" y="211.7" width="1" height="28.3" fill="#f23645"/>
<rect x="588.06" y="229.0" width="2.4" height="3.0" fill="#f23645"/>
<rect x="591.57" y="225.0" width="1" height="19.0" fill="#f23645"/>
<rect x="590.87" y="231.6" width="2.4" height="10.9" fill="#f23645"/>
<rect x="594.39" y="234.3" width="1" height="42.7" fill="#f23645"/>
<rect x="593.69" y="239.8" width="2.4" height="6.0" fill="#f23645"/>
<rect x="597.21" y="226.0" width="1" height="21.0" fill="#2962ff"/>
<rect x="596.51" y="231.0" width="2.4" height="14.8" fill="#2962ff"/>
<rect x="600.03" y="227.7" width="1" height="9.9" fill="#f23645"/>
<rect x="599.33" y="231.0" width="2.4" height="3.8" fill="#f23645"/>
<rect x="602.84" y="233.0" width="1" height="26.5" fill="#f23645"/>
<rect x="602.14" y="234.3" width="2.4" height="16.4" fill="#f23645"/>
<rect x="605.66" y="236.0" width="1" height="18.5" fill="#2962ff"/>
<rect x="604.96" y="244.7" width="2.4" height="6.0" fill="#2962ff"/>
<rect x="608.48" y="243.0" width="1" height="23.6" fill="#f23645"/>
<rect x="607.78" y="244.7" width="2.4" height="21.3" fill="#f23645"/>
<rect x="611.30" y="249.0" width="1" height="22.5" fill="#2962ff"/>
<rect x="610.60" y="249.0" width="2.4" height="16.5" fill="#2962ff"/>
<rect x="614.11" y="220.0" width="1" height="30.0" fill="#2962ff"/>
<rect x="613.41" y="221.0" width="2.4" height="28.6" fill="#2962ff"/>
<rect x="616.93" y="216.0" width="1" height="28.0" fill="#f23645"/>
<rect x="616.23" y="221.0" width="2.4" height="22.0" fill="#f23645"/>
<rect x="619.75" y="238.0" width="1" height="15.4" fill="#f23645"/>
<rect x="619.05" y="243.0" width="2.4" height="5.0" fill="#f23645"/>
<rect x="622.57" y="223.8" width="1" height="25.2" fill="#2962ff"/>
<rect x="621.87" y="238.0" width="2.4" height="10.0" fill="#2962ff"/>
<rect x="625.38" y="235.4" width="1" height="56.9" fill="#f23645"/>
<rect x="624.68" y="238.0" width="2.4" height="12.7" fill="#f23645"/>
<rect x="628.20" y="250.0" width="1" height="29.7" fill="#f23645"/>
<rect x="627.50" y="250.7" width="2.4" height="14.3" fill="#f23645"/>
<rect x="631.02" y="248.0" width="1" height="19.7" fill="#2962ff"/>
<rect x="630.32" y="256.0" width="2.4" height="8.4" fill="#2962ff"/>
<rect x="633.83" y="236.0" width="1" height="23.5" fill="#2962ff"/>
<rect x="633.13" y="239.0" width="2.4" height="17.0" fill="#2962ff"/>
<rect x="636.65" y="234.3" width="1" height="22.7" fill="#f23645"/>
<rect x="635.95" y="239.0" width="2.4" height="17.0" fill="#f23645"/>
<rect x="639.47" y="246.9" width="1" height="10.1" fill="#2962ff"/>
<rect x="638.77" y="248.5" width="2.4" height="7.5" fill="#2962ff"/>
<rect x="642.29" y="238.7" width="1" height="14.7" fill="#2962ff"/>
<rect x="641.59" y="242.0" width="2.4" height="8.2" fill="#2962ff"/>
<rect x="645.10" y="225.0" width="1" height="25.0" fill="#2962ff"/>
<rect x="644.40" y="242.0" width="2.4" height="2.0" fill="#2962ff"/>
<rect x="647.92" y="239.2" width="1" height="10.8" fill="#f23645"/>
<rect x="647.22" y="242.5" width="2.4" height="4.5" fill="#f23645"/>
<rect x="650.74" y="243.0" width="1" height="9.0" fill="#f23645"/>
<rect x="650.04" y="245.0" width="2.4" height="4.6" fill="#f23645"/>
<rect x="653.56" y="243.0" width="1" height="23.0" fill="#f23645"/>
<rect x="652.86" y="249.6" width="2.4" height="15.4" fill="#f23645"/>
<rect x="656.37" y="263.0" width="1" height="20.0" fill="#2962ff"/>
<rect x="655.67" y="263.3" width="2.4" height="1.7" fill="#2962ff"/>
<rect x="659.19" y="252.9" width="1" height="11.5" fill="#2962ff"/>
<rect x="658.49" y="255.0" width="2.4" height="8.8" fill="#2962ff"/></g><line x1="676.2" y1="286.8" x2="687.5" y2="338" stroke="#fff" stroke-width="1.8" stroke-linecap="round"/><polyline points="673,329.2 687.5,338 697.6,323.5" fill="none" stroke="#fff" stroke-width="1.8" stroke-linecap="round" stroke-linejoin="round"/><clipPath id="fc1"><circle cx="684.6" cy="396.3" r="6.5"/></clipPath><g clip-path="url(#fc1)"><rect x="678.1" y="389.8" width="13.0" height="13.0" fill="#fff"/><rect x="678.1" y="389.8" width="13.0" height="1.7" fill="#ec3d4a"/><rect x="678.1" y="392.90000000000003" width="13.0" height="1.5" fill="#ec3d4a"/><rect x="678.1" y="395.8" width="13.0" height="1.5" fill="#ec3d4a"/><rect x="678.1" y="399.6" width="13.0" height="3.3" fill="#ec3d4a"/><rect x="678.1" y="389.8" width="7.1" height="7.9" fill="#3d83ec"/><rect x="680.0" y="391.90000000000003" width="0.9" height="0.9" fill="#a9c8ff"/><rect x="680.0" y="393.90000000000003" width="0.9" height="0.9" fill="#a9c8ff"/><rect x="680.0" y="395.90000000000003" width="0.9" height="0.9" fill="#a9c8ff"/><rect x="682.0" y="391.90000000000003" width="0.9" height="0.9" fill="#a9c8ff"/><rect x="682.0" y="393.90000000000003" width="0.9" height="0.9" fill="#a9c8ff"/><rect x="682.0" y="395.90000000000003" width="0.9" height="0.9" fill="#a9c8ff"/><rect x="683.8000000000001" y="391.90000000000003" width="0.9" height="0.9" fill="#a9c8ff"/><rect x="683.8000000000001" y="393.90000000000003" width="0.9" height="0.9" fill="#a9c8ff"/><rect x="683.8000000000001" y="395.90000000000003" width="0.9" height="0.9" fill="#a9c8ff"/></g><circle cx="684.6" cy="396.3" r="7.6" fill="none" stroke="#c01f2c" stroke-width="1.8"/><clipPath id="fc2"><circle cx="701.7" cy="396.3" r="6.5"/></clipPath><g clip-path="url(#fc2)"><rect x="695.2" y="389.8" width="13.0" height="13.0" fill="#fff"/><rect x="695.2" y="389.8" width="13.0" height="1.7" fill="#ec3d4a"/><rect x="695.2" y="392.90000000000003" width="13.0" height="1.5" fill="#ec3d4a"/><rect x="695.2" y="395.8" width="13.0" height="1.5" fill="#ec3d4a"/><rect x="695.2" y="399.6" width="13.0" height="3.3" fill="#ec3d4a"/><rect x="695.2" y="389.8" width="7.1" height="7.9" fill="#3d83ec"/><rect x="697.1" y="391.90000000000003" width="0.9" height="0.9" fill="#a9c8ff"/><rect x="697.1" y="393.90000000000003" width="0.9" height="0.9" fill="#a9c8ff"/><rect x="697.1" y="395.90000000000003" width="0.9" height="0.9" fill="#a9c8ff"/><rect x="699.1" y="391.90000000000003" width="0.9" height="0.9" fill="#a9c8ff"/><rect x="699.1" y="393.90000000000003" width="0.9" height="0.9" fill="#a9c8ff"/><rect x="699.1" y="395.90000000000003" width="0.9" height="0.9" fill="#a9c8ff"/><rect x="700.9000000000001" y="391.90000000000003" width="0.9" height="0.9" fill="#a9c8ff"/><rect x="700.9000000000001" y="393.90000000000003" width="0.9" height="0.9" fill="#a9c8ff"/><rect x="700.9000000000001" y="395.90000000000003" width="0.9" height="0.9" fill="#a9c8ff"/></g><circle cx="701.7" cy="396.3" r="7.6" fill="none" stroke="#c01f2c" stroke-width="1.8"/><clipPath id="fc3"><circle cx="885" cy="396" r="6.5"/></clipPath><g clip-path="url(#fc3)"><rect x="878.5" y="389.5" width="13.0" height="13.0" fill="#fff"/><rect x="878.5" y="389.5" width="13.0" height="1.7" fill="#ec3d4a"/><rect x="878.5" y="392.6" width="13.0" height="1.5" fill="#ec3d4a"/><rect x="878.5" y="395.5" width="13.0" height="1.5" fill="#ec3d4a"/><rect x="878.5" y="399.3" width="13.0" height="3.3" fill="#ec3d4a"/><rect x="878.5" y="389.5" width="7.1" height="7.9" fill="#3d83ec"/><rect x="880.4" y="391.6" width="0.9" height="0.9" fill="#a9c8ff"/><rect x="880.4" y="393.6" width="0.9" height="0.9" fill="#a9c8ff"/><rect x="880.4" y="395.6" width="0.9" height="0.9" fill="#a9c8ff"/><rect x="882.4" y="391.6" width="0.9" height="0.9" fill="#a9c8ff"/><rect x="882.4" y="393.6" width="0.9" height="0.9" fill="#a9c8ff"/><rect x="882.4" y="395.6" width="0.9" height="0.9" fill="#a9c8ff"/><rect x="884.2" y="391.6" width="0.9" height="0.9" fill="#a9c8ff"/><rect x="884.2" y="393.6" width="0.9" height="0.9" fill="#a9c8ff"/><rect x="884.2" y="395.6" width="0.9" height="0.9" fill="#a9c8ff"/></g><circle cx="885" cy="396" r="7.6" fill="none" stroke="#c01f2c" stroke-width="1.8"/>
<!-- axis separators -->
<rect x="963" y="22" width="1" height="385" fill="#555"/>
<rect x="8" y="407" width="1008" height="1" fill="#444"/>
<!-- price labels -->
<text class="pl" textLength="37" lengthAdjust="spacingAndGlyphs" x="970.5" y="86">3,460.00</text>
<text class="pl" textLength="37" lengthAdjust="spacingAndGlyphs" x="970.5" y="131">3,440.00</text>
<text class="pl" textLength="37" lengthAdjust="spacingAndGlyphs" x="970.5" y="176">3,420.00</text>
<text class="pl" textLength="37" lengthAdjust="spacingAndGlyphs" x="970.5" y="221">3,400.00</text>
<text class="pl" textLength="37" lengthAdjust="spacingAndGlyphs" x="970.5" y="311">3,360.00</text>
<text class="pl" textLength="37" lengthAdjust="spacingAndGlyphs" x="970.5" y="356">3,340.00</text>
<text class="pl" textLength="37" lengthAdjust="spacingAndGlyphs" x="970.5" y="401">3,320.00</text>
<rect x="964" y="200" width="48" height="12.5" fill="#b8b8b8"/>
<text x="970.6" y="209.8" textLength="36.3" lengthAdjust="spacingAndGlyphs" style="font-size:10px;fill:#222">3,404.82</text>
<rect x="964" y="235" width="48" height="13" fill="#f23645"/>
<text x="970.6" y="244.6" textLength="36.7" lengthAdjust="spacingAndGlyphs" style="font-size:10px;fill:#fff">3,385.64</text>
<rect x="964" y="248.4" width="48" height="24.5" fill="#2962ff"/>
<text x="970.6" y="258.3" textLength="36.7" lengthAdjust="spacingAndGlyphs" style="font-size:10px;fill:#fff">3,383.06</text>
<text x="970.6" y="269.3" textLength="22.2" lengthAdjust="spacingAndGlyphs" style="font-size:10px;fill:#fff">47:21</text>
<!-- USD -->
<rect x="966.5" y="24.5" width="46" height="21" rx="3" fill="#161616" stroke="#2c2c2c"/>
<text x="973.7" y="39.1" textLength="16.2" lengthAdjust="spacingAndGlyphs" style="font-size:10.2px;fill:#ddd">USD</text>
<!-- time labels -->
<g class="tl" text-anchor="middle">
<text x="45.1" y="421">5</text><text x="110.2" y="421">6</text><text x="174.7" y="421">7</text>
<text x="240.1" y="421">10</text><text x="304.2" y="421">11</text><text x="369.7" y="421">12</text>
<text x="434.2" y="421">13</text><text x="499.2" y="421">14</text><text x="563.7" y="421">17</text>
<text x="628.2" y="421">18</text><text x="693.5" y="421">19</text><text x="757.9" y="421">20</text>
<text x="822.4" y="421">21</text><text x="887.5" y="421">24</text><text x="952.3" y="421">25</text>
</g>
<!-- legend -->
<g style="font-size:10px">
<text x="14.6" y="36.6" fill="#ececec" font-weight="bold" textLength="101" lengthAdjust="spacingAndGlyphs">金／米ドル・1時間・FX</text>
<text x="121.5" y="36.6" fill="#ececec" font-weight="bold" textLength="19" lengthAdjust="spacingAndGlyphs">始値</text>
<text x="140.5" y="36.6" fill="#2962ff" textLength="37.3" lengthAdjust="spacingAndGlyphs">3,379.34</text>
<text x="183.7" y="36.6" fill="#ececec" font-weight="bold" textLength="19" lengthAdjust="spacingAndGlyphs">高値</text>
<text x="203" y="36.6" fill="#2962ff" textLength="36.5" lengthAdjust="spacingAndGlyphs">3,383.76</text>
<text x="245.9" y="36.6" fill="#ececec" font-weight="bold" textLength="19" lengthAdjust="spacingAndGlyphs">安値</text>
<text x="265.7" y="36.6" fill="#2962ff" textLength="32.5" lengthAdjust="spacingAndGlyphs">3,379.21</text>
<text x="308.3" y="36.6" fill="#ececec" font-weight="bold" textLength="19" lengthAdjust="spacingAndGlyphs">終値</text>
<text x="327.3" y="36.6" fill="#2962ff" textLength="36" lengthAdjust="spacingAndGlyphs">3,383.06</text>
<text x="370.5" y="36.6" fill="#2962ff" textLength="22" lengthAdjust="spacingAndGlyphs">+3.72</text>
<text x="396.9" y="36.6" fill="#2962ff" textLength="35.8" lengthAdjust="spacingAndGlyphs">(+0.11%)</text>
</g>
<!-- events -->
<g>
<circle cx="659.7" cy="396.3" r="7.4" fill="#000" stroke="#9c27b0" stroke-width="1.5"/>
<path d="M662,392.2 L660.2,392.2 L657.6,397 L660,397 L658.2,400.8 L662.4,395.4 L660.2,395.4 Z" fill="#b046cc"/>
</g>
<g id="flag">
</g>
<!-- footer logo -->
<g fill="#111">
<path d="M8.1,438.6 H13.9 V446.2 H11.1 V441.7 H8.1 Z"/>
<circle cx="16.7" cy="440.3" r="1.4"/>
<path d="M19.8,438.8 H23.3 L20.6,446.2 H17.1 Z"/>
</g>
<text x="26.4" y="446.4" style="font-size:10.4px;fill:#2e2e2e">TradingView</text>
</body></html>
